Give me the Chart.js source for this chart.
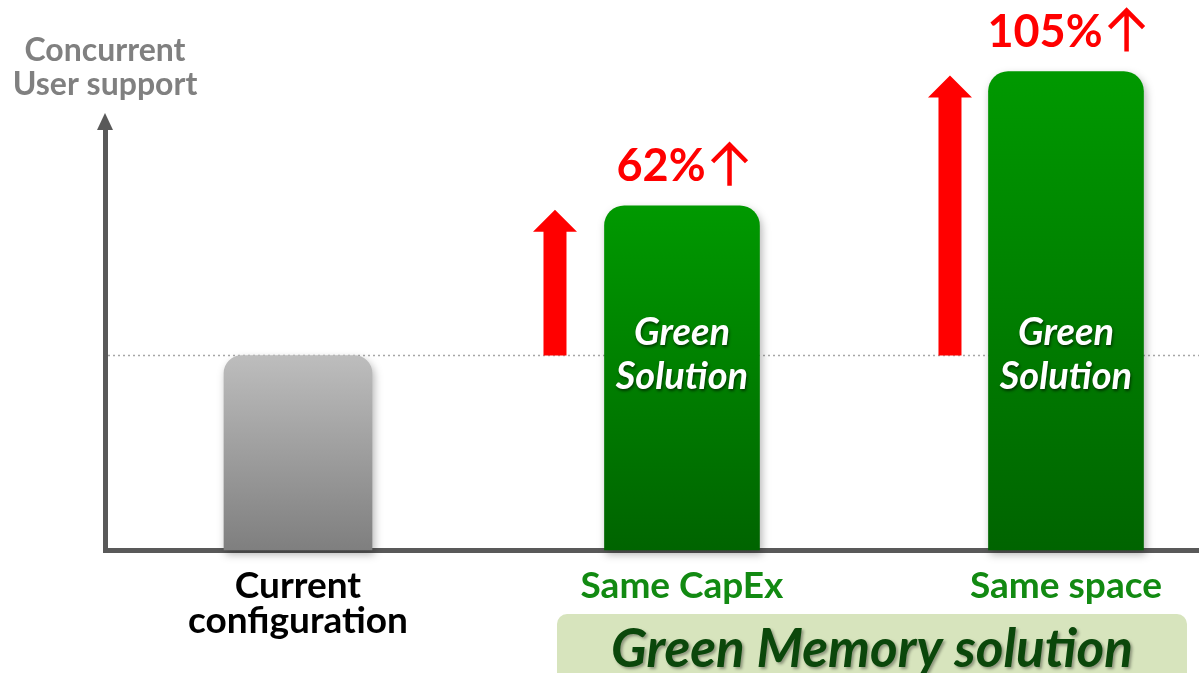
<!DOCTYPE html>
<html>
<head>
<meta charset="utf-8">
<script src="https://cdn.jsdelivr.net/npm/chart.js@4.4.1/dist/chart.umd.min.js"></script>
<style>
  body { margin: 0; background: #fff; }
</style>
</head>
<body>
<canvas id="chart" width="1199" height="673"></canvas>
<script>
// values (current configuration = 100)
const categories = [['Current', 'configuration'], ['Same CapEx'], ['Same space']];
const categoryColors = ['#000000', '#128a12', '#128a12'];
const currentValue = [100];
const greenValues = [177, 246];
const gainLabels = ['62%', '105%'];
const barText = ['Green', 'Solution'];
const groupLabel = 'Green Memory solution';
const axisTitle = ['Concurrent', 'User support'];

const FONT = 'Lato, "Open Sans", sans-serif';
const AXIS = '#595959';

function gradient(top, bottom) {
  return (c) => {
    const chart = c.chart;
    if (!chart.chartArea || !c.raw) return bottom;
    const y = chart.scales.y;
    const g = chart.ctx.createLinearGradient(0, y.getPixelForValue(c.raw.y), 0, y.getPixelForValue(0));
    g.addColorStop(0, top);
    g.addColorStop(1, bottom);
    return g;
  };
}

function blockArrow(ctx, cx, yBase, yTip) {
  const shaft = 11.5, head = 22, headH = 22;
  ctx.beginPath();
  ctx.moveTo(cx - shaft, yBase);
  ctx.lineTo(cx - shaft, yTip + headH);
  ctx.lineTo(cx - head, yTip + headH);
  ctx.lineTo(cx, yTip);
  ctx.lineTo(cx + head, yTip + headH);
  ctx.lineTo(cx + shaft, yTip + headH);
  ctx.lineTo(cx + shaft, yBase);
  ctx.closePath();
  ctx.fill();
}

const decorations = {
  id: 'decorations',
  beforeDatasetsDraw(chart) {
    const { ctx, chartArea, scales: { y } } = chart;
    const yc = y.getPixelForValue(currentValue[0]);
    ctx.save();
    ctx.strokeStyle = '#a6a6a6';
    ctx.lineWidth = 1.5;
    ctx.setLineDash([2, 3]);
    ctx.beginPath();
    ctx.moveTo(chartArea.left + 3, yc);
    ctx.lineTo(chartArea.right, yc);
    ctx.stroke();
    ctx.restore();
    // soft shadow under the bars
    ctx.save();
    ctx.shadowColor = 'rgba(0,0,0,0.3)';
    ctx.shadowBlur = 8;
    ctx.shadowOffsetX = 2;
    ctx.shadowOffsetY = 4;
  },
  afterDatasetsDraw(chart) {
    chart.ctx.restore();
  },
  afterDraw(chart) {
    const { ctx, chartArea, scales: { x, y } } = chart;
    const yc = y.getPixelForValue(currentValue[0]);
    const arrowOffsets = [-127, -116];
    ctx.save();

    // y axis arrow head
    ctx.fillStyle = AXIS;
    ctx.beginPath();
    ctx.moveTo(chartArea.left - 8, chartArea.top + 4);
    ctx.lineTo(chartArea.left + 8, chartArea.top + 4);
    ctx.lineTo(chartArea.left, chartArea.top - 13);
    ctx.closePath();
    ctx.fill();

    // y axis title
    ctx.fillStyle = '#808080';
    ctx.font = 'bold 32px ' + FONT;
    ctx.textAlign = 'center';
    ctx.textBaseline = 'alphabetic';
    ctx.fillText(axisTitle[0], chartArea.left, 61);
    ctx.fillText(axisTitle[1], chartArea.left, 95);

    greenValues.forEach((v, i) => {
      const cx = x.getPixelForValue(i + 2);
      const top = y.getPixelForValue(v);

      // red block arrow from current level up to the new level
      ctx.fillStyle = '#ff0000';
      blockArrow(ctx, cx + arrowOffsets[i], yc, top + 4);

      // gain label with thin arrow
      ctx.font = 'bold 45px ' + FONT;
      ctx.textAlign = 'left';
      const tw = ctx.measureText(gainLabels[i]).width;
      const total = tw + 6 + 36;
      const sx = cx - total / 2;
      const base = top - 25;
      ctx.fillText(gainLabels[i], sx, base);
      const ax = sx + tw + 6 + 18;
      ctx.strokeStyle = '#ff0000';
      ctx.lineWidth = 4.5;
      ctx.beginPath();
      ctx.moveTo(ax, base + 5);
      ctx.lineTo(ax, base - 36);
      ctx.moveTo(ax - 17, base - 19);
      ctx.lineTo(ax, base - 36);
      ctx.lineTo(ax + 17, base - 19);
      ctx.stroke();

      // text inside bar
      ctx.save();
      ctx.fillStyle = '#ffffff';
      ctx.shadowColor = 'rgba(0,0,0,0.55)';
      ctx.shadowBlur = 3;
      ctx.shadowOffsetX = 1;
      ctx.shadowOffsetY = 2;
      ctx.font = 'italic bold 38px ' + FONT;
      ctx.textAlign = 'center';
      ctx.fillText(barText[0], cx, yc - 11);
      ctx.fillText(barText[1], cx, yc + 33);
      ctx.restore();
    });

    // group box under the two green categories
    const bl = x.getPixelForValue(2) - 125;
    const br = x.getPixelForValue(3) + 121;
    ctx.fillStyle = '#d7e4bd';
    ctx.beginPath();
    ctx.roundRect(bl, 614, br - bl, 90, 10);
    ctx.fill();
    ctx.save();
    ctx.fillStyle = '#0b470b';
    ctx.shadowColor = 'rgba(0,0,0,0.35)';
    ctx.shadowBlur = 3;
    ctx.shadowOffsetX = 2;
    ctx.shadowOffsetY = 2;
    ctx.font = 'italic bold 53px ' + FONT;
    ctx.textAlign = 'center';
    ctx.fillText(groupLabel, (bl + br) / 2, 667);
    ctx.restore();

    ctx.restore();
  }
};

new Chart(document.getElementById('chart'), {
  type: 'bar',
  data: {
    datasets: [
      {
        data: currentValue.map((v) => ({ x: 1, y: v })),
        backgroundColor: gradient('#bdbdbd', '#7f7f7f'),
        barThickness: 148,
        borderRadius: 18,
        clip: false
      },
      {
        data: greenValues.map((v, i) => ({ x: i + 2, y: v })),
        backgroundColor: gradient('#009900', '#006400'),
        barThickness: 155,
        borderRadius: 20,
        clip: false
      }
    ]
  },
  options: {
    responsive: false,
    animation: false,
    layout: { padding: { left: 105, top: 126, right: 0, bottom: 0 } },
    datasets: { bar: { grouped: false } },
    plugins: { legend: { display: false }, tooltip: { enabled: false } },
    scales: {
      x: {
        type: 'linear',
        min: 0.4974,
        max: 3.3464,
        offset: false,
        z: 1,
        grid: { display: false, drawTicks: false },
        border: { color: AXIS, width: 5 },
        afterBuildTicks: (scale) => { scale.ticks = [{ value: 1 }, { value: 2 }, { value: 3 }]; },
        afterFit: (scale) => { scale.height = 123; },
        ticks: {
          padding: 18,
          maxRotation: 0,
          autoSkip: false,
          callback: (value) => categories[value - 1],
          color: (c) => categoryColors[c.index],
          font: { family: FONT, size: 37, weight: 'bold', lineHeight: 0.95 }
        }
      },
      y: {
        min: 0,
        max: 218,
        z: 1,
        grid: { display: false, drawTicks: false },
        border: { color: AXIS, width: 5 },
        ticks: { display: false },
        afterFit: (scale) => { scale.width = 0; }
      }
    }
  },
  plugins: [decorations]
});
</script>
</body>
</html>
